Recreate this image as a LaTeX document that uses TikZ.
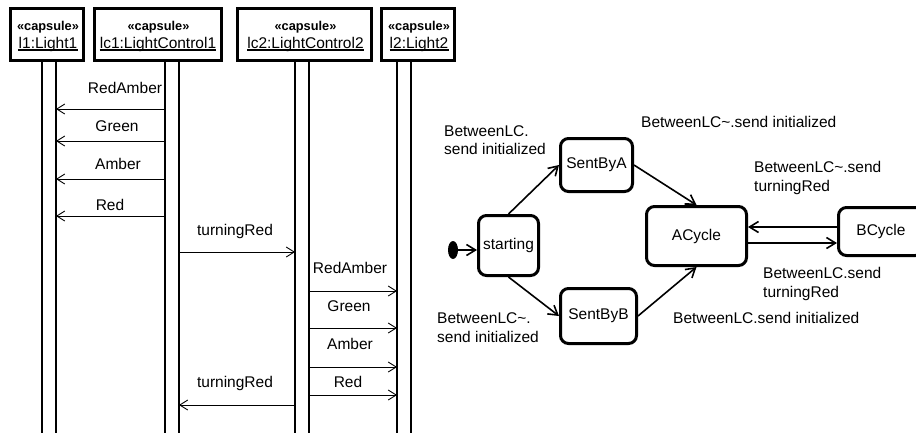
\documentclass[tikz,border=0pt]{standalone}
\usepackage{fontspec}
\setmainfont{Liberation Sans}
\usetikzlibrary{arrows.meta,shapes.geometric}
\begin{document}
\begin{tikzpicture}[x=1pt,y=-1pt,
  every node/.style={font=\fontsize{15.5}{18.5}\selectfont, inner sep=0pt},
  hdrbox/.style={draw, line width=3pt, minimum height=52pt},
  stereo/.style={font=\bfseries\fontsize{12.8}{15}\selectfont, anchor=base},
  objname/.style={anchor=base},
  uline/.style={line width=1.1pt},
  lifebox/.style={draw=none, minimum width=13.5pt, minimum height=380pt},
  lifeline/.style={line width=1.2pt},
  msg/.style={line width=0.9pt, -{Straight Barb[length=8pt,width=10pt]}},
  lbl/.style={anchor=base},
  state/.style={draw, line width=3pt, rounded corners=8pt},
  trans/.style={line width=1.6pt, -{Straight Barb[length=9pt,width=11pt]}},
  tlbl/.style={anchor=base west}
]
\useasboundingbox (0,0) rectangle (916,432);
\clip (0,0) rectangle (916,432);

% ---------- sequence diagram headers ----------
\node[hdrbox, minimum width=73pt]  (h1) at (47,34.5) {};
\node[hdrbox, minimum width=127pt] (h2) at (158,34.5) {};
\node[hdrbox, minimum width=134pt] (h3) at (304.5,34.5) {};
\node[hdrbox, minimum width=73pt]  (h4) at (418,34.5) {};

\node[stereo] (s1) at (48,30) {«capsule»};
\node[stereo] (s2) at (158.5,30) {«capsule»};
\node[stereo] (s3) at (305.5,30) {«capsule»};
\node[stereo] (s4) at (419,30) {«capsule»};

\node[objname] (n1) at (48,48) {l1:Light1};
\node[objname] (n2) at (158,48) {lc1:LightControl1};
\node[objname] (n3) at (305.5,48) {lc2:LightControl2};
\node[objname] (n4) at (419,48) {l2:Light2};
\foreach \n in {n1,n2,n3,n4}
  \draw[uline] ([yshift=-2pt]\n.base west) -- ([yshift=-2pt]\n.base east);

% ---------- lifelines ----------
\node[lifebox] (ll1) at (49,252) {};
\node[lifebox] (ll2) at (172,252) {};
\node[lifebox] (ll3) at (302,252) {};
\node[lifebox] (ll4) at (404,252) {};
\foreach \l in {ll1,ll2,ll3,ll4}
  \draw[lifeline] (\l.south west) -- (\l.north west) -- (\l.north east) -- (\l.south east);

% ---------- messages ----------
\draw[msg] (ll2.west |- 0,109) -- (ll1.east |- 0,109);
\draw[msg] (ll2.west |- 0,141) -- (ll1.east |- 0,141);
\draw[msg] (ll2.west |- 0,179) -- (ll1.east |- 0,179);
\draw[msg] (ll2.west |- 0,216) -- (ll1.east |- 0,216);
\node[lbl] (m1) at (125,93) {RedAmber};
\node[lbl] (m2) at (117,131) {Green};
\node[lbl] (m3) at (118,169) {Amber};
\node[lbl] (m4) at (110,210) {Red};

\draw[msg] (ll2.east |- 0,252) -- (ll3.west |- 0,252);
\node[lbl] (m5) at (235,235) {turningRed};

\draw[msg] (ll3.east |- 0,291) -- (ll4.west |- 0,291);
\draw[msg] (ll3.east |- 0,328) -- (ll4.west |- 0,328);
\draw[msg] (ll3.east |- 0,367) -- (ll4.west |- 0,367);
\draw[msg] (ll3.east |- 0,395) -- (ll4.west |- 0,395);
\node[lbl] (m6) at (350,273) {RedAmber};
\node[lbl] (m7) at (349,311) {Green};
\node[lbl] (m8) at (350,349) {Amber};
\node[lbl] (m9) at (348,387) {Red};

\draw[msg] (ll3.west |- 0,405) -- (ll2.east |- 0,405);
\node[lbl] (m10) at (235,387) {turningRed};

% ---------- state machine ----------
\node[state, minimum width=60pt, minimum height=60pt]  (st) at (508.5,245.5) {starting};
\node[state, minimum width=72pt, minimum height=53pt]  (sa) at (596.5,165) {SentByA};
\node[state, minimum width=76pt, minimum height=55pt]  (sb) at (598.5,316) {SentByB};
\node[state, minimum width=100pt, minimum height=59pt] (ac) at (696.5,236) {ACycle};
\node[state, minimum width=85pt, minimum height=48pt]  (bc) at (881,231.5) {BCycle};

\node[ellipse, fill=black, minimum width=10pt, minimum height=18pt] (init) at (453,250) {};
\draw[trans] (init.east) -- (st.west |- init.east);

\draw[trans] (st.north) -- (sa.west);
\draw[trans] (st.south) -- (sb.west);
\draw[trans] (sa.east) -- (ac.north);
\draw[trans] (sb.east) -- (ac.south);
\draw[trans] (bc.west |- 0,227) -- (ac.east |- 0,227);
\draw[trans] (ac.east |- 0,243) -- (bc.west |- 0,243);

\node[tlbl] (t1a) at (444,136) {BetweenLC.};
\node[tlbl] (t1b) at (444,154) {send initialized};
\node[tlbl] (t2a) at (437,323) {BetweenLC\textasciitilde.};
\node[tlbl] (t2b) at (437,342) {send initialized};
\node[tlbl] (t3)  at (641,127) {BetweenLC\textasciitilde.send initialized};
\node[tlbl] (t4a) at (754,172) {BetweenLC\textasciitilde.send};
\node[tlbl] (t4b) at (754,191) {turningRed};
\node[tlbl] (t5a) at (763,278) {BetweenLC.send};
\node[tlbl] (t5b) at (763,297) {turningRed};
\node[tlbl] (t6)  at (673,323) {BetweenLC.send initialized};
\end{tikzpicture}
\end{document}
